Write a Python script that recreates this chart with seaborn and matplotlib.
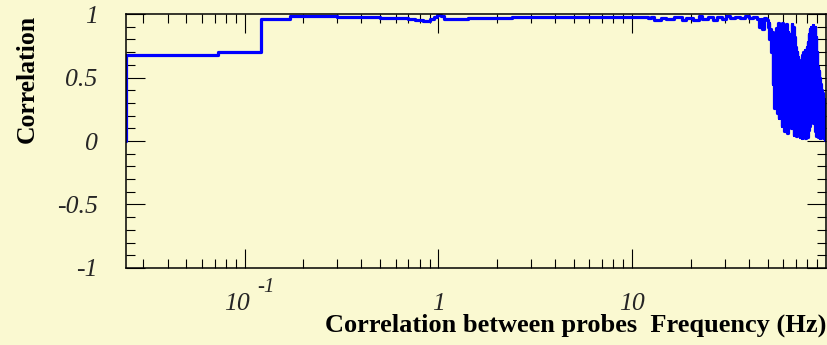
import numpy as np
import pandas as pd
import matplotlib
matplotlib.use("Agg")
import matplotlib.pyplot as plt
import seaborn as sns
from matplotlib.ticker import MultipleLocator, LogLocator, NullFormatter

# histogram steps: left bin edge (Hz) -> correlation
low_freq = [0.0244, 0.0244, 0.0732, 0.122, 0.171, 0.30, 0.50, 0.70, 0.76, 0.83,
            0.90, 0.95, 0.98, 1.03, 1.07, 1.42, 2.4, 4.0, 7.0, 10.0]
low_corr = [0.0, 0.68, 0.70, 0.96, 0.984, 0.976, 0.97, 0.96, 0.95, 0.945,
            0.96, 0.98, 0.995, 0.985, 0.962, 0.972, 0.976, 0.978, 0.975, 0.977]

mid_freq = [12.0, 12.5, 13.0, 14.0, 15.0, 16.5, 18.0, 19.0, 20.5, 22.0,
            23.0, 24.5, 26.0, 27.5, 29.0, 30.5, 32.0, 34.0, 36.0, 38.0,
            40.0, 42.0, 44.0, 45.0, 46.0, 47.0, 48.0, 49.0]
mid_corr = [0.965, 0.975, 0.955, 0.97, 0.96, 0.975, 0.955, 0.97, 0.95, 0.985,
            0.96, 0.98, 0.95, 0.975, 0.96, 0.985, 0.965, 0.98, 0.97, 0.985,
            0.97, 0.98, 0.96, 0.90, 0.96, 0.88, 0.97, 0.96]

noise_freq = [49.5, 50.0, 50.5, 51.0, 51.5, 52.0, 52.5, 53.0, 53.5, 54.0,
              54.5, 55.0, 55.5, 56.0, 56.5, 57.0, 57.5, 58.0, 58.5, 59.0,
              59.5, 60.0, 60.5, 61.0, 61.5, 62.0, 62.5, 63.0, 63.5, 64.0,
              64.5, 65.0, 65.5, 66.0, 66.5, 67.0, 67.5, 68.0, 68.5, 69.0,
              69.5, 70.0, 70.5, 71.0, 71.5, 72.0, 72.5, 73.0, 73.5, 74.0,
              74.5, 75.0, 75.5, 76.0, 76.5, 77.0, 77.5, 78.0, 78.5, 79.0,
              79.5, 80.0, 80.5, 81.0, 81.5, 82.0, 82.5, 83.0, 83.5, 84.0,
              84.5, 85.0, 85.5, 86.0, 86.5, 87.0, 87.5, 88.0, 88.5, 89.0,
              89.5, 90.0, 90.5, 91.0, 91.5, 92.0, 92.5, 93.0, 93.5, 94.0,
              94.5, 95.0, 95.5, 96.0, 96.5, 97.0, 97.5, 98.0, 98.5, 99.0,
              99.5, 100.0]
noise_corr = [0.95, 0.90, 0.93, 0.80, 0.88, 0.70, 0.86, 0.45, 0.84, 0.26,
              0.82, 0.35, 0.89, 0.22, 0.93, 0.18, 0.92, 0.30, 0.90, 0.12,
              0.93, 0.20, 0.91, 0.08, 0.88, 0.15, 0.92, 0.06, 0.86, 0.12,
              0.78, 0.22, 0.84, 0.10, 0.92, 0.14, 0.90, 0.05, 0.82, 0.11,
              0.74, 0.04, 0.70, 0.12, 0.66, 0.08, 0.62, 0.03, 0.58, 0.10,
              0.64, 0.02, 0.68, 0.06, 0.70, 0.03, 0.72, 0.02, 0.66, 0.05,
              0.74, 0.03, 0.78, 0.09, 0.84, 0.12, 0.88, 0.20, 0.90, 0.16,
              0.89, 0.22, 0.91, 0.14, 0.87, 0.18, 0.90, 0.08, 0.82, 0.04,
              0.70, 0.06, 0.58, 0.03, 0.55, 0.12, 0.50, 0.02, 0.45, 0.08,
              0.40, 0.03, 0.38, 0.10, 0.35, 0.02, 0.33, 0.06, 0.30, 0.01,
              0.28, 0.05]

y_ticks = [-1, -0.5, 0, 0.5, 1]
y_labels = ["-1", "-0.5", "0", "0.5", "1"]
x_ticks = [0.1, 1, 10]
x_labels = ["", "1", "10"]   # 10^-1 is written by hand below, ROOT style

df = pd.DataFrame({"freq": low_freq + mid_freq + noise_freq,
                   "corr": low_corr + mid_corr + noise_corr})

bg = "#faf9d1"
sns.set_theme(style="ticks")
plt.rcParams["font.family"] = ["Liberation Serif", "DejaVu Serif"]
plt.rcParams["axes.unicode_minus"] = False

fig = plt.figure(figsize=(8.28, 3.45), dpi=100, facecolor=bg)
ax = fig.add_axes([0.1522, 0.2232, 0.8454, 0.7362], facecolor=bg)

sns.lineplot(data=df, x="freq", y="corr", ax=ax, sort=False, estimator=None,
             drawstyle="steps-post", color="#0000ff", linewidth=2.3, legend=False)

ax.set_xscale("log")
ax.set_xlim(0.0244, 100)
ax.set_ylim(-1, 1)

ax.set_xticks(x_ticks)
ax.set_xticklabels(x_labels, fontsize=18.5, fontstyle="italic")
ax.xaxis.set_minor_locator(LogLocator(base=10, subs=np.arange(2, 10)))
ax.xaxis.set_minor_formatter(NullFormatter())
ax.set_yticks(y_ticks)
ax.set_yticklabels(y_labels, fontsize=18.5, fontstyle="italic")
ax.yaxis.set_minor_locator(MultipleLocator(0.1))

ax.tick_params(which="both", direction="in", top=True, right=True,
               color="black", width=0.8)
ax.tick_params(which="major", length=13.5)
ax.tick_params(which="minor", length=6.5)
ax.tick_params(axis="y", pad=20.5)
ax.tick_params(axis="x", pad=30)
for lbl in ax.get_xticklabels():
    lbl.set_verticalalignment("baseline")

# "10" with a raised "-1" under the 0.1 tick
ax.annotate("10", xy=(0.1, 0), xycoords=("data", "axes fraction"),
            xytext=(3.6, -30.2), textcoords="offset points",
            ha="right", va="baseline", fontsize=18.5, fontstyle="italic")
ax.annotate("-1", xy=(0.1, 0), xycoords=("data", "axes fraction"),
            xytext=(9.2, -17.3), textcoords="offset points",
            ha="left", va="baseline", fontsize=15, fontstyle="italic")

for sp in ax.spines.values():
    sp.set_color("black")
    sp.set_linewidth(1.1)
    sp.set_zorder(5)

ax.set_ylabel("Correlation", fontsize=18.5, fontweight="bold", color="black")
ax.yaxis.label.set_rotation_mode("default")
ax.yaxis.label.set_horizontalalignment("center")
ax.yaxis.label.set_verticalalignment("top")
ax.yaxis.set_label_coords(-0.1406, 0.996)

ax.set_xlabel("Correlation between probes  Frequency (Hz)", fontsize=19,
              fontweight="bold", color="black")
ax.xaxis.label.set_horizontalalignment("right")
ax.xaxis.label.set_verticalalignment("baseline")
ax.xaxis.set_label_coords(1.0, -0.252)

ax.grid(False)
fig.savefig("out.png", dpi=100, facecolor=bg)
